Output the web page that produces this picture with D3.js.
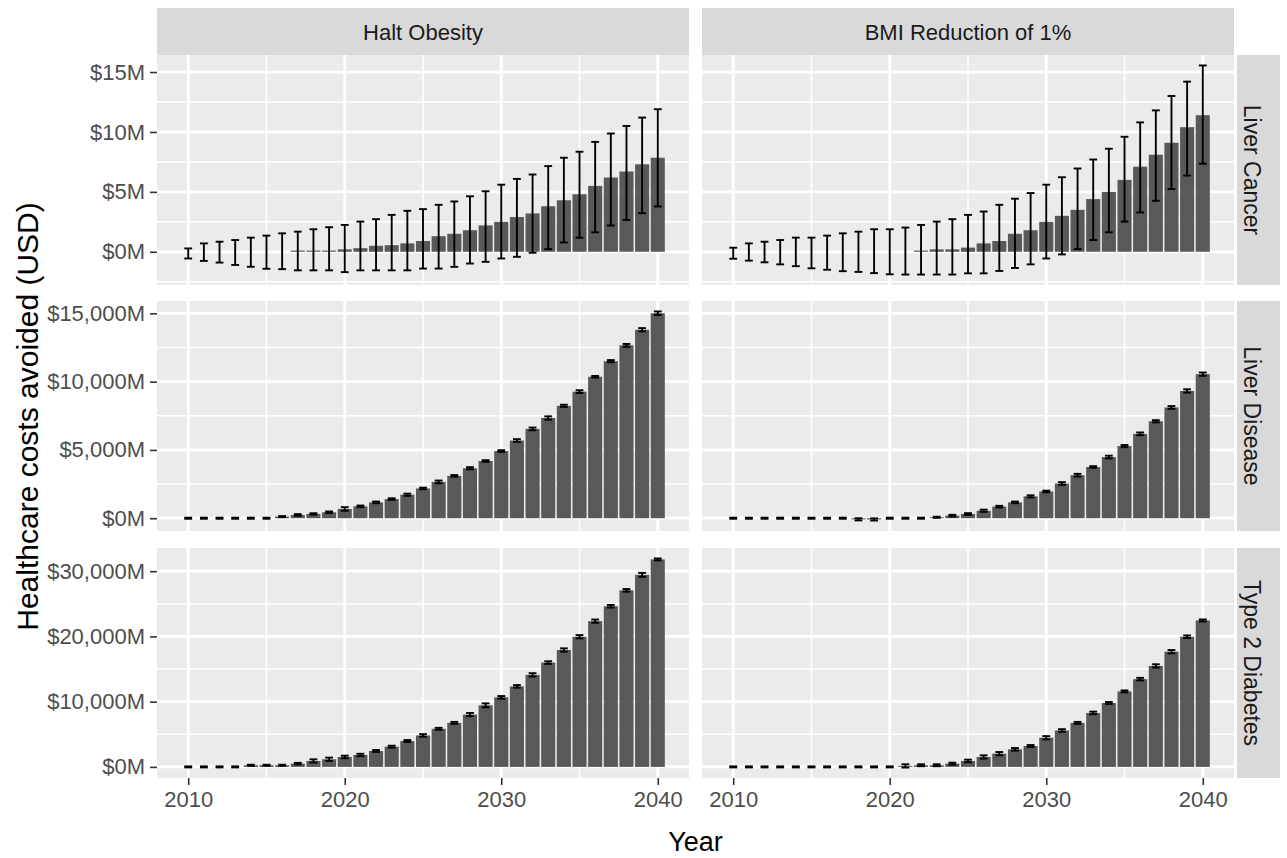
<!DOCTYPE html>
<html>
<head>
<meta charset="utf-8">
<script src="https://cdn.jsdelivr.net/npm/d3@7"></script>
<style>
  html, body { margin: 0; padding: 0; background: #ffffff; }
  svg { display: block; }
  text { font-family: "Liberation Sans", Arial, "DejaVu Sans", sans-serif; }
</style>
</head>
<body>
<svg id="chart" width="1287" height="858"></svg>
<script>
// ---------------- DATA ----------------
const years = [2010,2011,2012,2013,2014,2015,2016,2017,2018,2019,2020,2021,2022,2023,2024,2025,2026,2027,2028,2029,2030,2031,2032,2033,2034,2035,2036,2037,2038,2039,2040];

const scenarios = ["Halt Obesity", "BMI Reduction of 1%"];
const outcomes = ["Liver Cancer", "Liver Disease", "Type 2 Diabetes"];

// Liver Cancer (millions USD) – mean with lower / upper bounds
const lcHaltMean = [0,0,0,0,0,0,0,0.1,0.1,0.1,0.2,0.3,0.5,0.55,0.7,0.9,1.3,1.5,1.8,2.2,2.5,2.9,3.2,3.8,4.3,4.8,5.5,6.2,6.7,7.3,7.85];
const lcHaltLow  = [-0.56,-0.76,-0.9,-1.1,-1.25,-1.42,-1.45,-1.55,-1.55,-1.55,-1.7,-1.55,-1.55,-1.55,-1.55,-1.4,-1.4,-1.26,-0.98,-0.84,-0.56,-0.42,-0.08,0.22,0.78,1.18,1.63,2.19,2.66,3.22,3.78];
const lcHaltHigh = [0.28,0.7,0.84,0.98,1.18,1.35,1.54,1.68,1.88,2.05,2.24,2.52,2.72,3.08,3.42,3.56,3.92,4.2,4.63,5.05,5.6,6.08,6.45,7.15,7.85,8.35,9.17,9.87,10.5,11.2,11.9];

const lcBmiMean = [0,0,0,0,0,0,0,0,0,0,0,0,0.1,0.2,0.2,0.35,0.7,0.9,1.5,1.8,2.5,3.0,3.5,4.4,5.0,6.0,7.1,8.1,9.1,10.4,11.4];
const lcBmiLow  = [-0.58,-0.74,-0.88,-1.05,-1.2,-1.38,-1.5,-1.62,-1.68,-1.78,-1.88,-1.9,-1.9,-1.9,-1.9,-1.8,-1.8,-1.6,-1.35,-1.05,-0.56,-0.22,0.22,0.98,1.63,2.52,3.28,4.26,5.24,6.36,7.35];
const lcBmiHigh = [0.34,0.7,0.84,0.98,1.18,1.18,1.35,1.54,1.68,1.88,1.88,2.02,2.24,2.52,2.72,3.08,3.36,3.92,4.43,4.9,5.6,6.22,6.95,7.7,8.6,9.6,10.8,11.8,13.0,14.2,15.55];

// Liver Disease (millions USD) – mean and half-width of interval
const ldHaltMean = [0,0,0,0,0,0,120,240,315,435,680,870,1160,1400,1720,2180,2660,3100,3660,4190,4920,5690,6540,7340,8230,9270,10360,11500,12660,13800,15010];
const ldHaltErr  = [40,40,40,40,40,40,40,60,50,60,130,60,60,60,80,60,100,60,80,60,60,100,100,120,80,100,60,80,100,120,130];
const ldBmiMean  = [0,0,0,0,0,0,0,0,-80,-90,0,0,0,70,190,310,550,850,1160,1600,1960,2540,3150,3750,4480,5280,6180,7100,8110,9320,10550];
const ldBmiErr   = [40,40,40,40,40,40,40,40,80,80,40,40,40,40,60,60,80,60,60,80,60,100,100,60,100,80,100,80,100,120,120];

// Type 2 Diabetes (millions USD) – mean and half-width of interval
const t2HaltMean = [0,0,0,0,250,250,250,500,910,1170,1520,1830,2440,3100,3960,4820,5840,6750,8020,9440,10660,12340,14110,15990,17920,19950,22340,24620,27060,29440,31800];
const t2HaltErr  = [80,80,80,80,80,80,80,120,250,250,200,180,150,150,150,200,150,150,250,300,200,200,250,200,250,250,250,200,200,300,150];
const t2BmiMean  = [0,0,0,0,0,0,0,0,0,0,0,150,250,250,500,910,1520,2030,2690,3200,4470,5580,6750,8270,9800,11570,13450,15480,17660,19950,22450];
const t2BmiErr   = [80,80,80,80,80,80,80,80,80,80,80,250,150,150,150,200,250,250,200,150,250,200,150,200,150,150,200,250,250,200,150];

// Tick values
const yTicksByRow = [[0,5,10,15],[0,5000,10000,15000],[0,10000,20000,30000]];
const xTicks = [2010,2020,2030,2040];
const xMinor = [2015,2025,2035];

// ---------------- LAYOUT ----------------
const colBox = [{x0:157, x1:689},{x0:702, x1:1234}];
const rowBox = [{y0:55, y1:285},{y0:301, y1:531},{y0:548, y1:778}];
const stripTop = {y0:8, y1:55};
const stripRight = {x0:1237, x1:1280};

const BAR_W = 0.9, ERR_W = 0.5;
const FONT = "'Liberation Sans', Arial, sans-serif";

const panels = [
  {row:0,col:0,mean:lcHaltMean, low:lcHaltLow, high:lcHaltHigh},
  {row:0,col:1,mean:lcBmiMean, low:lcBmiLow, high:lcBmiHigh},
  {row:1,col:0,mean:ldHaltMean, low:ldHaltMean.map((v,i)=>v-ldHaltErr[i]), high:ldHaltMean.map((v,i)=>v+ldHaltErr[i])},
  {row:1,col:1,mean:ldBmiMean, low:ldBmiMean.map((v,i)=>v-ldBmiErr[i]), high:ldBmiMean.map((v,i)=>v+ldBmiErr[i])},
  {row:2,col:0,mean:t2HaltMean, low:t2HaltMean.map((v,i)=>v-t2HaltErr[i]), high:t2HaltMean.map((v,i)=>v+t2HaltErr[i])},
  {row:2,col:1,mean:t2BmiMean, low:t2BmiMean.map((v,i)=>v-t2BmiErr[i]), high:t2BmiMean.map((v,i)=>v+t2BmiErr[i])}
];

// x scales (ggplot-like 5% expansion around bar extents)
const xLo = d3.min(years) - BAR_W/2, xHi = d3.max(years) + BAR_W/2;
const xPad = 0.05*(xHi - xLo);
const xScales = colBox.map(c => d3.scaleLinear().domain([xLo - xPad, xHi + xPad]).range([c.x0, c.x1]));

// y scales per row (free_y)
const yScales = rowBox.map((r, ri) => {
  const ps = panels.filter(p => p.row === ri);
  const vals = [0];
  ps.forEach(p => { vals.push(...p.low, ...p.high, ...p.mean); });
  const lo = d3.min(vals), hi = d3.max(vals);
  const pad = 0.05*(hi - lo);
  return d3.scaleLinear().domain([lo - pad, hi + pad]).range([r.y1, r.y0]);
});

const svg = d3.select("#chart");
const fmtM = v => "$" + d3.format(",")(v) + "M";

// ---------------- DRAW ----------------
panels.forEach(p => {
  const xs = xScales[p.col], ys = yScales[p.row];
  const c = colBox[p.col], r = rowBox[p.row];
  const g = svg.append("g");
  const clipId = `clip-${p.row}-${p.col}`;
  svg.append("clipPath").attr("id", clipId)
    .append("rect").attr("x", c.x0).attr("y", r.y0).attr("width", c.x1-c.x0).attr("height", r.y1-r.y0);

  g.append("rect").attr("x", c.x0).attr("y", r.y0).attr("width", c.x1-c.x0).attr("height", r.y1-r.y0)
    .attr("fill", "#EBEBEB");

  const grid = g.append("g").attr("clip-path", `url(#${clipId})`);
  const yt = yTicksByRow[p.row];
  const step = yt[1]-yt[0];
  const ext = [yt[0]-step, ...yt, yt[yt.length-1]+step];
  const yMinor = [];
  for (let i=0;i<ext.length-1;i++) yMinor.push((ext[i]+ext[i+1])/2);
  const [d0,d1] = ys.domain();
  grid.selectAll(".ymin").data(yMinor.filter(v => v>=d0 && v<=d1)).join("line")
    .attr("x1", c.x0).attr("x2", c.x1).attr("y1", d => ys(d)).attr("y2", d => ys(d))
    .attr("stroke", "#ffffff").attr("stroke-width", 1.5);
  grid.selectAll(".xmin").data(xMinor).join("line")
    .attr("y1", r.y0).attr("y2", r.y1).attr("x1", d => xs(d)).attr("x2", d => xs(d))
    .attr("stroke", "#ffffff").attr("stroke-width", 1.5);
  grid.selectAll(".ymaj").data(yt).join("line")
    .attr("x1", c.x0).attr("x2", c.x1).attr("y1", d => ys(d)).attr("y2", d => ys(d))
    .attr("stroke", "#ffffff").attr("stroke-width", 2.8);
  grid.selectAll(".xmaj").data(xTicks).join("line")
    .attr("y1", r.y0).attr("y2", r.y1).attr("x1", d => xs(d)).attr("x2", d => xs(d))
    .attr("stroke", "#ffffff").attr("stroke-width", 2.8);

  const idx = d3.range(years.length);
  g.selectAll(".bar").data(idx).join("rect")
    .attr("x", i => xs(years[i] - BAR_W/2))
    .attr("width", i => xs(years[i] + BAR_W/2) - xs(years[i] - BAR_W/2))
    .attr("y", i => ys(Math.max(0, p.mean[i])))
    .attr("height", i => Math.abs(ys(0) - ys(p.mean[i])))
    .attr("fill", "#595959");

  const eb = g.append("g").attr("stroke", "#000000").attr("stroke-width", 1.9).attr("fill", "none");
  eb.selectAll(".ev").data(idx).join("line")
    .attr("x1", i => xs(years[i])).attr("x2", i => xs(years[i]))
    .attr("y1", i => ys(p.low[i])).attr("y2", i => ys(p.high[i]));
  eb.selectAll(".eh").data(idx).join("line")
    .attr("x1", i => xs(years[i]-ERR_W/2)).attr("x2", i => xs(years[i]+ERR_W/2))
    .attr("y1", i => ys(p.high[i])).attr("y2", i => ys(p.high[i]));
  eb.selectAll(".el").data(idx).join("line")
    .attr("x1", i => xs(years[i]-ERR_W/2)).attr("x2", i => xs(years[i]+ERR_W/2))
    .attr("y1", i => ys(p.low[i])).attr("y2", i => ys(p.low[i]));
});

// y axes (left column only)
rowBox.forEach((r, ri) => {
  const ys = yScales[ri];
  const axis = d3.axisLeft(ys).tickValues(yTicksByRow[ri]).tickFormat(fmtM).tickSize(7).tickPadding(5);
  const ga = svg.append("g").attr("transform", `translate(${colBox[0].x0},0)`).call(axis);
  ga.select(".domain").remove();
  ga.selectAll(".tick line").attr("stroke", "#333333").attr("stroke-width", 1.6);
  ga.selectAll(".tick text").attr("fill", "#4D4D4D").style("font-size", "22px").style("font-family", FONT);
});

// x axes (bottom row only)
colBox.forEach((c, ci) => {
  const axis = d3.axisBottom(xScales[ci]).tickValues(xTicks).tickFormat(d3.format("d")).tickSize(7).tickPadding(6);
  const ga = svg.append("g").attr("transform", `translate(0,${rowBox[2].y1})`).call(axis);
  ga.select(".domain").remove();
  ga.selectAll(".tick line").attr("stroke", "#333333").attr("stroke-width", 1.6);
  ga.selectAll(".tick text").attr("fill", "#4D4D4D").style("font-size", "22px").style("font-family", FONT);
});

// top strips
colBox.forEach((c, ci) => {
  svg.append("rect").attr("x", c.x0).attr("y", stripTop.y0).attr("width", c.x1-c.x0).attr("height", stripTop.y1-stripTop.y0)
    .attr("fill", "#D9D9D9");
  svg.append("text").attr("x", (c.x0+c.x1)/2).attr("y", 39.5).attr("text-anchor", "middle")
    .attr("fill", "#1A1A1A").style("font-size", "22px").text(scenarios[ci]);
});

// right strips
rowBox.forEach((r, ri) => {
  svg.append("rect").attr("x", stripRight.x0).attr("y", r.y0).attr("width", stripRight.x1-stripRight.x0).attr("height", r.y1-r.y0)
    .attr("fill", "#D9D9D9");
  svg.append("text").attr("transform", `translate(1244,${(r.y0+r.y1)/2}) rotate(90)`)
    .attr("text-anchor", "middle").attr("fill", "#1A1A1A").style("font-size", "23px").text(outcomes[ri]);
});

// axis titles
svg.append("text").attr("transform", `translate(38,${(rowBox[0].y0+rowBox[2].y1)/2}) rotate(-90)`)
  .attr("text-anchor", "middle").attr("fill", "#000000").style("font-size", "30px")
  .text("Healthcare costs avoided (USD)");
svg.append("text").attr("x", (colBox[0].x0+colBox[1].x1)/2).attr("y", 851)
  .attr("text-anchor", "middle").attr("fill", "#000000").style("font-size", "27px").text("Year");
</script>
</body>
</html>
